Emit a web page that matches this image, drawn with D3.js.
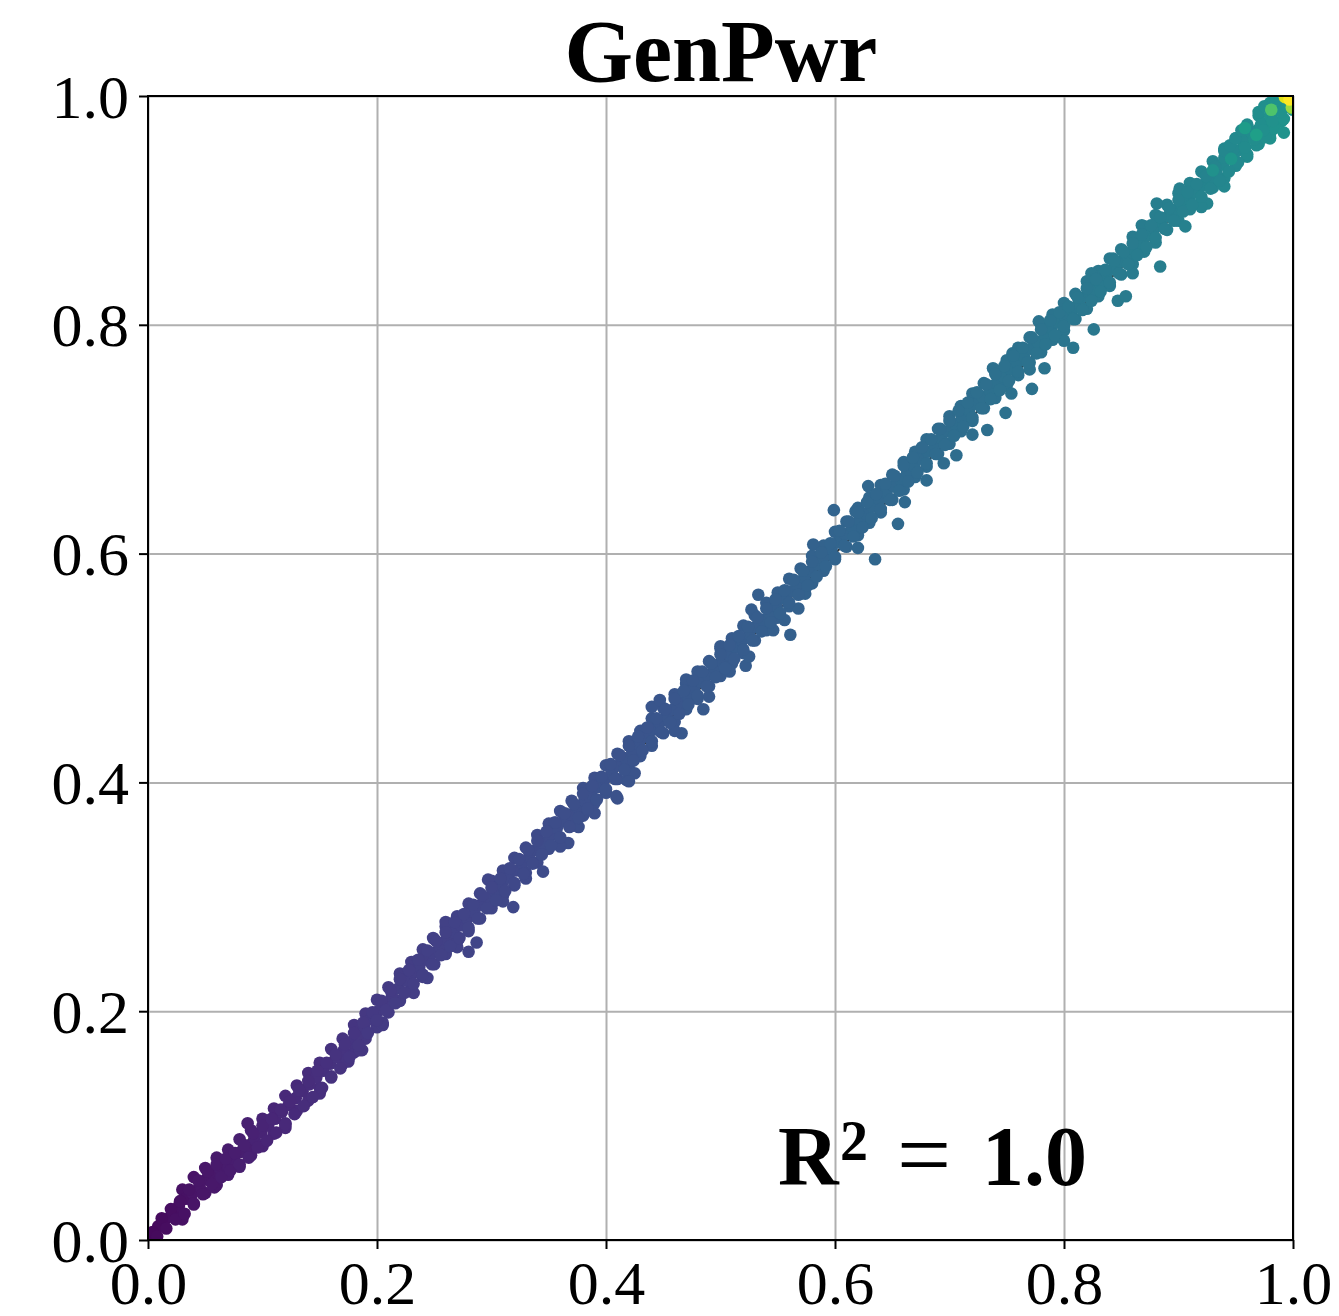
<!DOCTYPE html>
<html><head><meta charset="utf-8">
<script src="https://cdn.jsdelivr.net/npm/d3@7"></script>
<style>body{margin:0;background:#fff}svg{display:block}</style>
</head><body>
<script>
// ---- data ----
const chartTitle = "GenPwr";
const tickValues = [0.0, 0.2, 0.4, 0.6, 0.8, 1.0];
const r2Label = "1.0";
// main band of points [actual, predicted]
const bandPoints = [
[0.004,0.007],[0.008,0.003],[0.012,0.019],[0.016,0.010],[0.020,0.027],[0.024,0.018],[0.028,0.034],[0.032,0.023],
[0.036,0.044],[0.040,0.032],[0.044,0.052],[0.048,0.040],[0.052,0.060],[0.056,0.049],[0.060,0.066],[0.064,0.055],
[0.068,0.071],[0.072,0.061],[0.076,0.076],[0.080,0.066],[0.084,0.083],[0.088,0.072],[0.092,0.093],[0.096,0.081],
[0.100,0.100],[0.104,0.087],[0.108,0.106],[0.112,0.094],[0.116,0.114],[0.120,0.101],[0.124,0.121],[0.128,0.110],
[0.132,0.131],[0.136,0.117],[0.140,0.139],[0.144,0.125],[0.148,0.148],[0.152,0.133],[0.156,0.155],[0.160,0.142],
[0.164,0.162],[0.168,0.150],[0.172,0.171],[0.176,0.160],[0.180,0.181],[0.184,0.170],[0.188,0.190],[0.192,0.181],
[0.196,0.199],[0.200,0.192],[0.204,0.209],[0.208,0.201],[0.212,0.218],[0.216,0.207],[0.220,0.228],[0.224,0.216],
[0.228,0.236],[0.232,0.224],[0.236,0.245],[0.240,0.232],[0.244,0.253],[0.248,0.241],[0.252,0.261],[0.256,0.249],
[0.260,0.269],[0.264,0.257],[0.268,0.278],[0.272,0.264],[0.276,0.285],[0.280,0.273],[0.284,0.293],[0.288,0.281],
[0.292,0.301],[0.296,0.290],[0.300,0.308],[0.304,0.297],[0.308,0.316],[0.312,0.305],[0.316,0.325],[0.320,0.312],
[0.324,0.333],[0.328,0.320],[0.332,0.341],[0.336,0.329],[0.340,0.349],[0.344,0.337],[0.348,0.357],[0.352,0.345],
[0.356,0.365],[0.360,0.352],[0.364,0.373],[0.368,0.361],[0.372,0.381],[0.376,0.369],[0.380,0.390],[0.384,0.377],
[0.388,0.397],[0.392,0.385],[0.396,0.405],[0.400,0.394],[0.404,0.416],[0.408,0.403],[0.412,0.424],[0.416,0.411],
[0.420,0.432],[0.424,0.419],[0.428,0.440],[0.432,0.428],[0.436,0.448],[0.440,0.436],[0.444,0.456],[0.448,0.444],
[0.452,0.464],[0.456,0.452],[0.460,0.473],[0.464,0.460],[0.468,0.480],[0.472,0.468],[0.476,0.489],[0.480,0.476],
[0.484,0.497],[0.488,0.484],[0.492,0.504],[0.496,0.492],[0.500,0.512],[0.504,0.500],[0.508,0.520],[0.512,0.508],
[0.516,0.528],[0.520,0.516],[0.524,0.536],[0.528,0.524],[0.532,0.544],[0.536,0.532],[0.540,0.552],[0.544,0.540],
[0.548,0.560],[0.552,0.548],[0.556,0.568],[0.560,0.557],[0.564,0.577],[0.568,0.564],[0.572,0.585],[0.576,0.572],
[0.580,0.593],[0.584,0.580],[0.588,0.601],[0.592,0.589],[0.596,0.609],[0.600,0.597],[0.604,0.620],[0.608,0.607],
[0.612,0.628],[0.616,0.615],[0.620,0.636],[0.624,0.623],[0.628,0.645],[0.632,0.631],[0.636,0.652],[0.640,0.639],
[0.644,0.661],[0.648,0.647],[0.652,0.668],[0.656,0.655],[0.660,0.677],[0.664,0.663],[0.668,0.684],[0.672,0.671],
[0.676,0.693],[0.680,0.679],[0.684,0.700],[0.688,0.687],[0.692,0.709],[0.696,0.695],[0.700,0.716],[0.704,0.703],
[0.708,0.725],[0.712,0.711],[0.716,0.732],[0.720,0.719],[0.724,0.741],[0.728,0.727],[0.732,0.748],[0.736,0.735],
[0.740,0.757],[0.744,0.743],[0.748,0.764],[0.752,0.751],[0.756,0.773],[0.760,0.759],[0.764,0.780],[0.768,0.767],
[0.772,0.789],[0.776,0.775],[0.780,0.796],[0.784,0.783],[0.788,0.804],[0.792,0.791],[0.796,0.811],[0.800,0.799],
[0.804,0.816],[0.808,0.805],[0.812,0.824],[0.816,0.813],[0.820,0.832],[0.824,0.821],[0.828,0.840],[0.832,0.829],
[0.836,0.848],[0.840,0.837],[0.844,0.856],[0.848,0.845],[0.852,0.864],[0.856,0.853],[0.860,0.871],[0.864,0.861],
[0.868,0.879],[0.872,0.868],[0.876,0.887],[0.880,0.876],[0.884,0.894],[0.888,0.884],[0.892,0.902],[0.896,0.891],
[0.900,0.909],[0.904,0.899],[0.908,0.916],[0.912,0.905],[0.916,0.923],[0.920,0.912],[0.924,0.930],[0.928,0.919],
[0.932,0.938],[0.936,0.926],[0.940,0.946],[0.944,0.934],[0.948,0.953],[0.952,0.942],[0.956,0.961],[0.960,0.949],
[0.964,0.968],[0.968,0.957],[0.972,0.975],[0.976,0.964],[0.980,0.983],[0.984,0.972],[0.988,0.990],[0.992,0.980],
[0.996,0.996],[1.000,0.988],
[0.940,0.952],[0.945,0.957],[0.950,0.963],[0.955,0.970],[0.960,0.975],[0.970,0.986],[0.975,0.991],[0.985,0.996],
[0.990,0.986],[0.995,0.991],[0.998,1.000],[0.958,0.955],[0.966,0.962],[0.974,0.970],[0.982,0.978],[0.992,0.968]
];
// centre line of the band
const bandMid = [
[0.003,0.006],[0.009,0.012],[0.015,0.018],[0.021,0.024],[0.027,0.030],[0.033,0.036],[0.039,0.041],[0.045,0.047],
[0.051,0.053],[0.057,0.058],[0.063,0.062],[0.069,0.066],[0.075,0.071],[0.081,0.077],[0.087,0.082],[0.093,0.088],
[0.099,0.094],[0.105,0.100],[0.111,0.106],[0.117,0.112],[0.123,0.118],[0.129,0.124],[0.135,0.130],[0.141,0.136],
[0.147,0.142],[0.153,0.148],[0.159,0.154],[0.165,0.160],[0.171,0.166],[0.177,0.173],[0.183,0.179],[0.189,0.186],
[0.195,0.193],[0.201,0.200],[0.207,0.207],[0.213,0.213],[0.219,0.220],[0.225,0.227],[0.231,0.233],[0.237,0.239],
[0.243,0.245],[0.249,0.251],[0.255,0.257],[0.261,0.263],[0.267,0.269],[0.273,0.275],[0.279,0.281],[0.285,0.287],
[0.291,0.293],[0.297,0.299],[0.303,0.305],[0.309,0.311],[0.315,0.317],[0.321,0.323],[0.327,0.329],[0.333,0.335],
[0.339,0.341],[0.345,0.347],[0.351,0.353],[0.357,0.360],[0.363,0.366],[0.369,0.372],[0.375,0.378],[0.381,0.384],
[0.387,0.390],[0.393,0.396],[0.399,0.403],[0.405,0.409],[0.411,0.415],[0.417,0.421],[0.423,0.427],[0.429,0.433],
[0.435,0.440],[0.441,0.446],[0.447,0.452],[0.453,0.458],[0.459,0.464],[0.465,0.470],[0.471,0.476],[0.477,0.482],
[0.483,0.488],[0.489,0.494],[0.495,0.500],[0.501,0.506],[0.507,0.512],[0.513,0.518],[0.519,0.524],[0.525,0.530],
[0.531,0.536],[0.537,0.542],[0.543,0.548],[0.549,0.554],[0.555,0.561],[0.561,0.567],[0.567,0.573],[0.573,0.579],
[0.579,0.585],[0.585,0.591],[0.591,0.598],[0.597,0.604],[0.603,0.610],[0.609,0.617],[0.615,0.623],[0.621,0.629],
[0.627,0.635],[0.633,0.641],[0.639,0.647],[0.645,0.653],[0.651,0.659],[0.657,0.665],[0.663,0.671],[0.669,0.677],
[0.675,0.683],[0.681,0.689],[0.687,0.695],[0.693,0.701],[0.699,0.707],[0.705,0.713],[0.711,0.719],[0.717,0.725],
[0.723,0.731],[0.729,0.737],[0.735,0.743],[0.741,0.749],[0.747,0.755],[0.753,0.761],[0.759,0.767],[0.765,0.773],
[0.771,0.779],[0.777,0.785],[0.783,0.791],[0.789,0.797],[0.795,0.802],[0.801,0.807],[0.807,0.813],[0.813,0.819],
[0.819,0.825],[0.825,0.831],[0.831,0.837],[0.837,0.843],[0.843,0.849],[0.849,0.855],[0.855,0.861],[0.861,0.866],
[0.867,0.872],[0.873,0.878],[0.879,0.884],[0.885,0.890],[0.891,0.895],[0.897,0.900],[0.903,0.905],[0.909,0.910],
[0.915,0.916],[0.921,0.922],[0.927,0.928],[0.933,0.934],[0.939,0.940],[0.945,0.946],[0.951,0.952],[0.957,0.958],
[0.963,0.964],[0.969,0.970],[0.975,0.976],[0.981,0.982],[0.987,0.988],[0.993,0.994],[0.999,1.000]
];
// upper edge of the band
const bandTop = [
[0.030,0.044],[0.040,0.055],[0.050,0.063],[0.060,0.072],[0.070,0.079],[0.080,0.088],[0.090,0.096],[0.100,0.106],
[0.110,0.115],[0.120,0.126],[0.130,0.135],[0.140,0.146],[0.150,0.155],[0.160,0.167],[0.170,0.176],[0.180,0.188],
[0.190,0.198],[0.200,0.210],[0.210,0.221],[0.220,0.233],[0.230,0.243],[0.240,0.254],[0.250,0.263],[0.260,0.274],
[0.270,0.283],[0.280,0.294],[0.290,0.303],[0.300,0.314],[0.310,0.323],[0.320,0.334],[0.330,0.343],[0.340,0.354],
[0.350,0.364],[0.360,0.375],[0.370,0.384],[0.380,0.395],[0.390,0.404],[0.400,0.415],[0.410,0.425],[0.420,0.436],
[0.430,0.445],[0.440,0.456],[0.450,0.465],[0.460,0.477],[0.470,0.486],[0.480,0.497],[0.490,0.506],[0.500,0.517],
[0.510,0.526],[0.520,0.537],[0.530,0.546],[0.540,0.557],[0.550,0.566],[0.560,0.578],[0.570,0.587],[0.580,0.598],
[0.590,0.607],[0.600,0.619],[0.610,0.628],[0.620,0.640],[0.630,0.649],[0.640,0.660],[0.650,0.669],[0.660,0.680],
[0.670,0.689],[0.680,0.700],[0.690,0.709],[0.700,0.720],[0.710,0.729],[0.720,0.740],[0.730,0.749],[0.740,0.760],
[0.750,0.769],[0.760,0.780],[0.770,0.789],[0.780,0.800],[0.790,0.809],[0.800,0.819],[0.810,0.827],[0.820,0.838],
[0.830,0.847],[0.840,0.858],[0.850,0.866],[0.860,0.877],[0.870,0.886],[0.880,0.896],[0.890,0.905],[0.900,0.915],
[0.910,0.924],[0.920,0.934],[0.930,0.943],[0.940,0.954],[0.950,0.963],[0.960,0.974],[0.970,0.983],[0.980,0.994],
[0.990,1.002]
];
// lower edge of the band
const bandBottom = [
[0.030,0.022],[0.040,0.031],[0.050,0.041],[0.060,0.048],[0.070,0.057],[0.080,0.064],[0.090,0.074],[0.100,0.082],
[0.110,0.093],[0.120,0.102],[0.130,0.113],[0.140,0.122],[0.150,0.133],[0.160,0.143],[0.170,0.154],[0.180,0.164],
[0.190,0.176],[0.200,0.186],[0.210,0.199],[0.220,0.209],[0.230,0.221],[0.240,0.230],[0.250,0.241],[0.260,0.250],
[0.270,0.261],[0.280,0.270],[0.290,0.281],[0.300,0.290],[0.310,0.301],[0.320,0.310],[0.330,0.321],[0.340,0.330],
[0.350,0.342],[0.360,0.351],[0.370,0.362],[0.380,0.371],[0.390,0.382],[0.400,0.391],[0.410,0.403],[0.420,0.412],
[0.430,0.423],[0.440,0.432],[0.450,0.443],[0.460,0.453],[0.470,0.464],[0.480,0.473],[0.490,0.484],[0.500,0.493],
[0.510,0.504],[0.520,0.513],[0.530,0.524],[0.540,0.533],[0.550,0.544],[0.560,0.554],[0.570,0.565],[0.580,0.574],
[0.590,0.585],[0.600,0.595],[0.610,0.606],[0.620,0.616],[0.630,0.627],[0.640,0.636],[0.650,0.647],[0.660,0.656],
[0.670,0.667],[0.680,0.676],[0.690,0.687],[0.700,0.696],[0.710,0.707],[0.720,0.716],[0.730,0.727],[0.740,0.736],
[0.750,0.747],[0.760,0.756],[0.770,0.767],[0.780,0.776],[0.790,0.787],[0.800,0.795],[0.810,0.805],[0.820,0.814],
[0.830,0.825],[0.840,0.834],[0.850,0.844],[0.860,0.853],[0.870,0.864],[0.880,0.872],[0.890,0.883],[0.900,0.891],
[0.910,0.901],[0.920,0.909],[0.930,0.920],[0.940,0.928],[0.950,0.939],[0.960,0.947],[0.970,0.958],[0.980,0.967],
[0.990,0.978]
];
// scattered points off the band
const outlierPoints = [
[0.087,0.102],[0.100,0.083],[0.187,0.166],[0.175,0.156],[0.205,0.188],[0.058,0.046],[0.030,0.018],
[0.410,0.386],[0.376,0.361],[0.367,0.347],[0.345,0.322],[0.319,0.291],[0.287,0.260],[0.280,0.252],
[0.244,0.229],[0.232,0.216],[0.205,0.190],[0.185,0.166],[0.174,0.157],[0.355,0.365],[0.297,0.315],[0.249,0.264],
[0.409,0.388],[0.418,0.402],[0.425,0.408],[0.440,0.466],[0.447,0.472],[0.466,0.443],[0.485,0.464],
[0.508,0.497],[0.522,0.502],[0.500,0.519],[0.561,0.529],[0.546,0.533],[0.533,0.564],[0.527,0.551],
[0.568,0.552],[0.574,0.565],[0.581,0.608],[0.599,0.638],[0.635,0.595],[0.655,0.626],[0.618,0.637],
[0.629,0.659],[0.661,0.645],[0.695,0.679],[0.706,0.686],[0.733,0.708],[0.749,0.723],[0.754,0.740],
[0.772,0.744],[0.783,0.762],[0.770,0.761],[0.808,0.780],[0.826,0.796],[0.847,0.821],[0.854,0.825],
[0.884,0.851],[0.778,0.803],[0.755,0.775],[0.738,0.762],[0.824,0.845],[0.843,0.858],
[0.868,0.887],[0.881,0.906],[0.906,0.886],[0.925,0.906],[0.901,0.919],[0.980,0.963],
[0.270,0.256],[0.310,0.296],[0.330,0.316],[0.360,0.344],[0.390,0.373],[0.420,0.401],[0.460,0.445],
[0.490,0.475],[0.525,0.510],[0.556,0.542],[0.620,0.605],[0.680,0.664],[0.720,0.704],[0.800,0.786],
[0.860,0.845],[0.920,0.903],[0.940,0.921],[0.150,0.128],[0.120,0.098],[0.260,0.278],[0.470,0.490]
];
// corner points with distinct colour values [actual, predicted, colourValue]
const cornerPoints = [
[0.946,0.945,0.52],[0.930,0.935,0.50],[0.968,0.966,0.56],[0.958,0.972,0.55],
[0.981,0.988,0.72],[0.993,0.999,0.95],[0.999,0.990,0.85],[0.997,0.997,1.00]
];
// colour (viridis position) estimated along the band
const colourStopsX = [0, 0.05, 0.1, 0.2, 0.3, 0.4, 0.5, 0.6, 0.7, 0.8, 0.9, 0.95, 1.0];
const colourStopsT = [0.02, 0.06, 0.10, 0.17, 0.21, 0.25, 0.28, 0.32, 0.35, 0.39, 0.43, 0.47, 0.52];

// ---- layout ----
const W = 1339, H = 1316;
const L = 148, R = 1293, T = 96, B = 1240;
const svg = d3.select("body").append("svg").attr("width", W).attr("height", H);
const x = d3.scaleLinear().domain([0, 1]).range([L, R]);
const y = d3.scaleLinear().domain([0, 1]).range([B, T]);
const tScale = d3.scaleLinear().domain(colourStopsX).range(colourStopsT).clamp(true);
const serif = "'Liberation Serif','DejaVu Serif',serif";

svg.append("defs").append("clipPath").attr("id", "clip")
  .append("rect").attr("x", L).attr("y", T).attr("width", R - L).attr("height", B - T);

// grid
svg.append("g").attr("transform", `translate(0,${B})`)
  .call(d3.axisBottom(x).tickValues(tickValues).tickSize(-(B - T)).tickFormat(""))
  .call(g => g.select(".domain").remove())
  .call(g => g.selectAll("line").attr("stroke", "#b0b0b0").attr("stroke-width", 2));
svg.append("g").attr("transform", `translate(${L},0)`)
  .call(d3.axisLeft(y).tickValues(tickValues).tickSize(-(R - L)).tickFormat(""))
  .call(g => g.select(".domain").remove())
  .call(g => g.selectAll("line").attr("stroke", "#b0b0b0").attr("stroke-width", 2));

const plot = svg.append("g").attr("clip-path", "url(#clip)");
// fit line
plot.append("line").attr("x1", x(0)).attr("y1", y(0)).attr("x2", x(1)).attr("y2", y(1))
  .attr("stroke", "#333").attr("stroke-width", 2);

const rad = 6.3;
const all = bandTop.concat(bandBottom, bandMid, outlierPoints, bandPoints).map(d => [d[0], d[1], tScale(d[0])]);
plot.selectAll("circle.p").data(all).join("circle").attr("class", "p")
  .attr("cx", d => x(d[0])).attr("cy", d => y(d[1])).attr("r", rad)
  .attr("fill", d => d3.interpolateViridis(d[2]));
plot.selectAll("circle.c").data(cornerPoints).join("circle").attr("class", "c")
  .attr("cx", d => x(d[0])).attr("cy", d => y(d[1])).attr("r", rad)
  .attr("fill", d => d3.interpolateViridis(d[2]));

// axes
const fmt = d3.format(".1f");
const ax = svg.append("g").attr("transform", `translate(0,${B})`)
  .call(d3.axisBottom(x).tickValues(tickValues).tickSize(9).tickPadding(11).tickFormat(fmt));
const ay = svg.append("g").attr("transform", `translate(${L},0)`)
  .call(d3.axisLeft(y).tickValues(tickValues).tickSize(9).tickPadding(10).tickFormat(fmt));
[ax, ay].forEach(g => {
  g.select(".domain").remove();
  g.selectAll("line").attr("stroke", "#000").attr("stroke-width", 2);
  g.selectAll("text").attr("font-family", serif).attr("font-size", 62).attr("fill", "#000");
});
ax.selectAll("text").attr("dy", "0.71em");
ay.selectAll("text").attr("dy", "0.34em");

// spines
svg.append("rect").attr("x", L).attr("y", T).attr("width", R - L).attr("height", B - T)
  .attr("fill", "none").attr("stroke", "#000").attr("stroke-width", 2);

// title
svg.append("text").attr("x", 721).attr("y", 81).attr("text-anchor", "middle")
  .attr("font-family", serif).attr("font-weight", "bold").attr("font-size", 88)
  .text(chartTitle);

// R^2 annotation
const ann = svg.append("g").attr("font-family", serif).attr("fill", "#000");
ann.append("text").attr("x", 778).attr("y", 1185).attr("font-weight", "bold").attr("font-size", 84).text("R");
ann.append("text").attr("x", 840).attr("y", 1160).attr("font-weight", "bold").attr("font-size", 56).text("2");
ann.append("text").attr("x", 897).attr("y", 1187).attr("font-size", 96).text("=");
ann.append("text").attr("x", 982).attr("y", 1185).attr("font-weight", "bold").attr("font-size", 84).text(r2Label);
</script>
</body></html>
